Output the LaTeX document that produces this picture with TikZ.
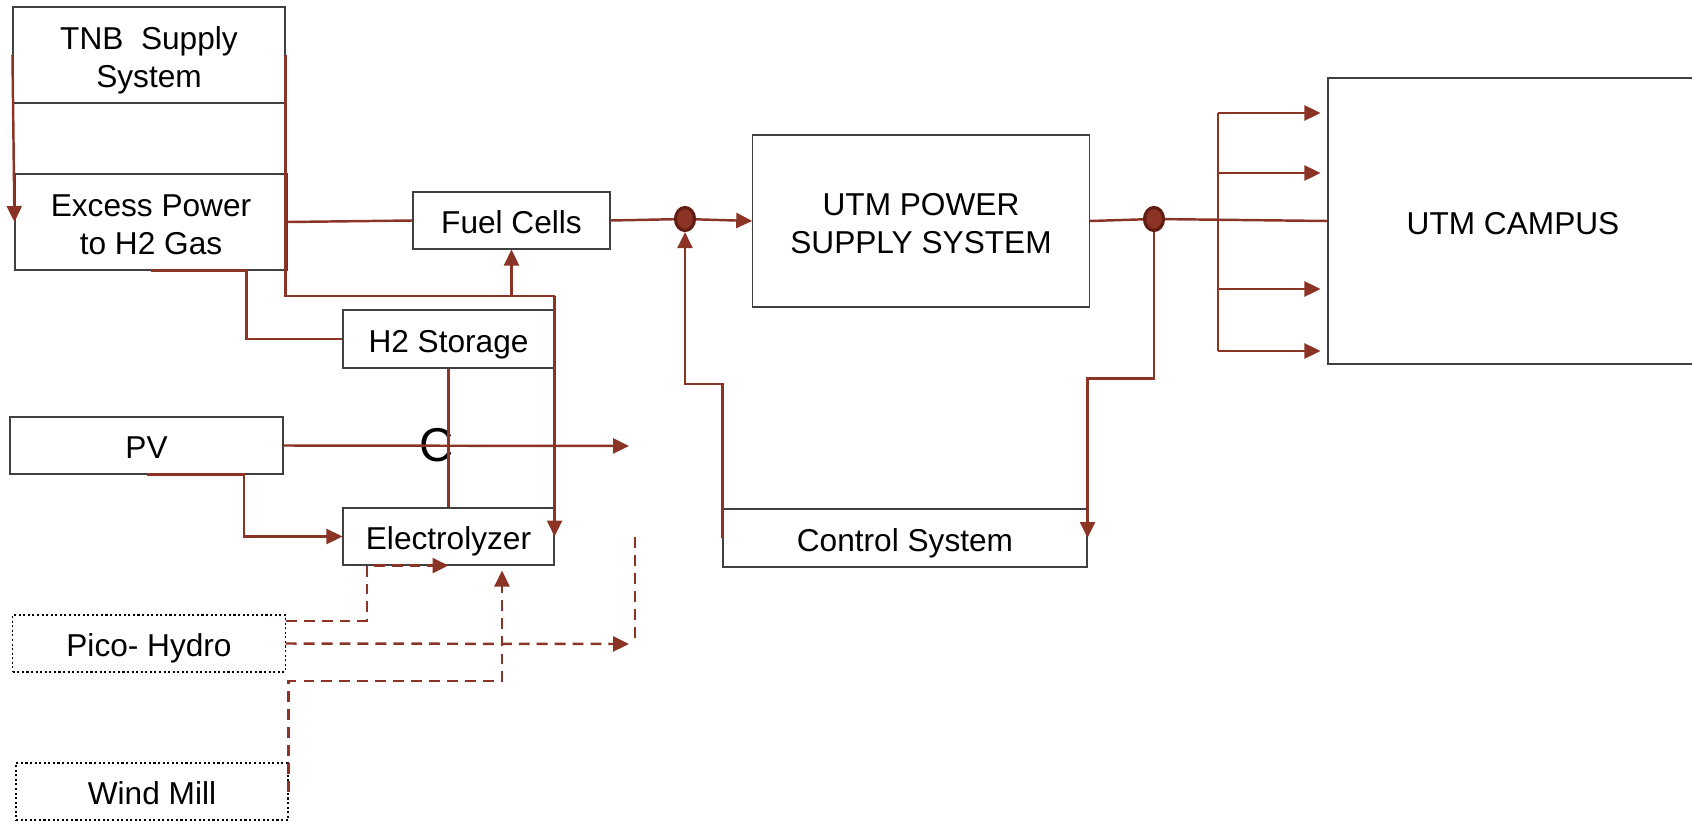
\documentclass[tikz,border=0pt]{standalone}
\usepackage{fontspec}
\setmainfont{Liberation Sans}
\usetikzlibrary{shapes.geometric, arrows.meta, positioning, calc}
\definecolor{wirered}{RGB}{139,52,38}
\definecolor{wiredark}{RGB}{98,28,18}

\begin{document}
\begin{tikzpicture}
    % Define styles
    \tikzstyle{block} = [rectangle, draw=black!75, line width=0.3pt, inner sep=0pt, align=center, font=\fontsize{9}{10.9}\selectfont, execute at begin node={\rule[-0.2em]{0pt}{1.24em}}, execute at end node={\rule[-0.2em]{0pt}{0.2em}}]
    \tikzstyle{twoline} = [block, execute at begin node={\rule[-0.2em]{0pt}{2.46em}}]
    \tikzstyle{source} = [block, draw=black, dash pattern=on 0.6pt off 0.7pt]
    \tikzstyle{junction} = [ellipse, draw=wiredark, fill=wirered, line width=0.9pt, minimum width=0.19cm, minimum height=0.23cm, inner sep=0pt]
    \tikzstyle{wire} = [draw=wirered, line width=0.7pt]
    \tikzstyle{arrow} = [wire, -{Triangle[length=0.16cm, width=0.15cm]}]
    \tikzstyle{dashwire} = [wire, dash pattern=on 3.1pt off 2pt]
    \tikzstyle{dasharrow} = [arrow, dash pattern=on 3.1pt off 2pt]

    \useasboundingbox (0,0) rectangle (16.92,-8.20);

    % Sources and storage
    \node[twoline, minimum width=2.72cm, minimum height=0.96cm] (tnb) at (1.49,-0.55) {TNB\ \ Supply\\System};
    \node[twoline, minimum width=2.72cm, minimum height=0.96cm] (excess) at (1.51,-2.22) {Excess Power\\to H2 Gas};
    \node[block, minimum width=1.97cm, minimum height=0.57cm] (fuel) at (5.115,-2.205) {Fuel Cells};
    \node[block, minimum width=2.11cm, minimum height=0.58cm] (h2) at (4.485,-3.39) {H2 Storage};
    \node[block, minimum width=2.73cm, minimum height=0.57cm] (pv) at (1.465,-4.455) {PV};
    \node[block, minimum width=2.11cm, minimum height=0.57cm] (elec) at (4.485,-5.365) {Electrolyzer};
    \node[source, minimum width=2.725cm, minimum height=0.57cm] (pico) at (1.49,-6.435) {Pico- Hydro};
    \node[source, minimum width=2.72cm, minimum height=0.57cm] (wind) at (1.52,-7.915) {Wind Mill};
    \node[font=\fontsize{13.5}{16}\selectfont, inner sep=0pt] (cap) at (4.37,-4.45) {C};

    % Supply, control and load
    \node[twoline, minimum width=3.365cm, minimum height=1.72cm] (utm) at (9.21,-2.21) {UTM POWER\\SUPPLY SYSTEM};
    \node[block, minimum width=3.64cm, minimum height=0.58cm] (ctrl) at (9.05,-5.38) {Control System};
    \node[block, minimum width=3.7cm, minimum height=2.86cm] (campus) at (15.13,-2.21) {UTM CAMPUS};
    \node[junction] (jl) at (6.85,-2.19) {};
    \node[junction] (jr) at (11.54,-2.19) {};

    % Arrows
    \coordinate (split) at (elec.east |- 0,-2.96);
    \draw[arrow] (tnb.west) -- (excess.west);
    \draw[wire] (tnb.east) |- (split);
    \draw[arrow] (split) -- (elec.east);
    \draw[arrow] (split) -| (fuel.south);
    \draw[wire] (excess.east) -- (fuel.west);
    \draw[wire] (excess.south) -- ++(0.955,0) |- (h2.west);
    \draw[wire] (h2.south) -- (elec.north);

    \coordinate (pvout) at (6.29,-4.46);
    \draw[arrow] (pv.east) -- (pvout);
    \draw[arrow] (pv.south) -- ++(0.975,0) |- (elec.west);

    \draw[wire] (fuel.east) -- (jl);
    \draw[arrow] (jl) -- (utm.west);
    \draw[arrow] (ctrl.west) -- ++(0,1.54) -| (jl.south);
    \draw[wire] (utm.east) -- (jr) -- (campus.west);
    \draw[arrow] (jr.south) -- ++(0,-1.465) -| (ctrl.east);

    \coordinate (bustop) at (12.18,-1.13);
    \coordinate (busbot) at (12.18,-3.51);
    \draw[wire] (bustop) -- (busbot);
    \foreach \y in {-1.13,-1.73,-2.89,-3.51}
        \draw[arrow, shorten >=0.07cm] (bustop |- 0,\y) -- (campus.west |- 0,\y);

    % Dashed feeds
    \draw[dasharrow] ([yshift=0.225cm]pico.east) -- ++(0.81,0) |- (elec.south);
    \coordinate (hydout) at (6.29,-6.44);
    \draw[dasharrow] (pico.east) -- (hydout);
    \coordinate (dtop) at (6.35,-5.37);
    \coordinate (dbot) at (6.35,-6.40);
    \draw[dashwire] (dtop) -- (dbot);
    \draw[dasharrow, shorten >=0.05cm] (wind.east) -- ++(0,1.105) -| ([xshift=0.535cm]elec.south);

\end{tikzpicture}
\end{document}
